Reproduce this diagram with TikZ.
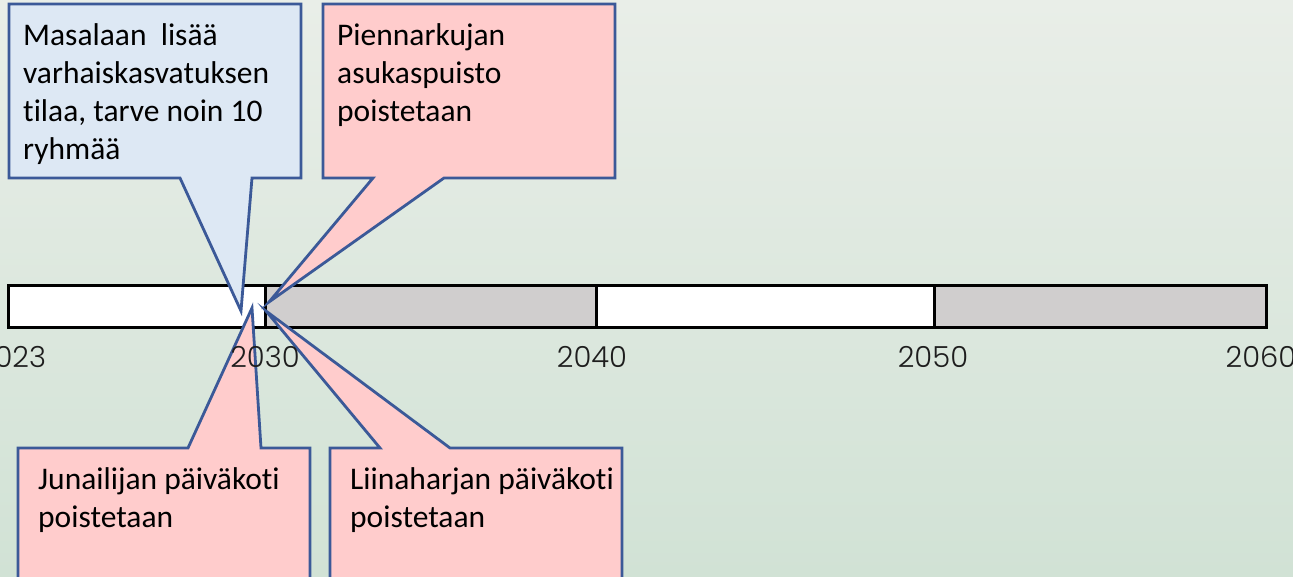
\documentclass[tikz,border=0pt]{standalone}
\usepackage{fontspec}
\setmainfont{Carlito}[Ligatures=NoCommon]
\IfFontExistsTF{Poppins Light}{\newfontfamily\yearfont{Poppins Light}}{\newfontfamily\yearfont{Poppins}}
\definecolor{bgtop}{RGB}{233,238,232}
\definecolor{bgbot}{RGB}{209,226,213}
\definecolor{pinkfill}{RGB}{255,204,204}
\definecolor{bluefill}{RGB}{221,232,244}
\definecolor{calloutline}{RGB}{59,89,152}
\definecolor{bargray}{RGB}{208,206,206}
\definecolor{yeartext}{RGB}{30,30,30}
\begin{document}
\begin{tikzpicture}[x=1pt,y=-1pt,
  callout/.style={draw=calloutline,line width=2.8pt,line join=miter},
  barseg/.style={draw=black,line width=3pt},
  calltext/.style={anchor=base west,inner sep=0pt,align=left,
    font=\fontsize{31.5}{38}\selectfont,text=black},
  year/.style={anchor=base,inner sep=0pt,
    font=\yearfont\fontsize{29}{36}\selectfont,text=yeartext}]
\useasboundingbox (0,0) rectangle (1293,577);
\clip (0,0) rectangle (1293,577);
\shade[top color=bgtop,bottom color=bgbot] (0,0) rectangle (1293,577);

% timeline bar
\draw[barseg,fill=white]   (8,286)   rectangle (265,327);
\draw[barseg,fill=bargray] (265,286) rectangle (596,327);
\draw[barseg,fill=white]   (596,286) rectangle (934,327);
\draw[barseg,fill=bargray] (934,286) rectangle (1266,327);

% pointer tips
\coordinate (tipA) at (241,311);
\coordinate (tipB) at (269,302);
\coordinate (tipC) at (252,308);
\coordinate (tipD) at (266,311);

% callouts
\draw[callout,fill=bluefill] (9,4) -- (301,4) -- (301,178) -- (252,178) -- (tipA)
  -- (180,178) -- (9,178) -- cycle;
\draw[callout,fill=pinkfill] (323,4) -- (615,4) -- (615,178) -- (444,178) -- (tipB)
  -- (373,178) -- (323,178) -- cycle;
\draw[callout,fill=pinkfill] (18,448) -- (188,448) -- (tipC) -- (261,448)
  -- (310,448) -- (310,600) -- (18,600) -- cycle;
\draw[callout,fill=pinkfill] (330,448) -- (380,448) -- (tipD) -- (450,448)
  -- (622,448) -- (622,600) -- (330,600) -- cycle;

% texts (anchored at the baseline of the last line)
\node[calltext] (tA) at (23,160) {Masalaan\ \ lisää\\varhaiskasvatuksen\\tilaa, tarve noin 10\\ryhmää};
\node[calltext] (tB) at (337,122) {Piennarkujan\\asukaspuisto\\poistetaan};
\node[calltext] (tC) at (38,527) {Junailijan päiväkoti\\poistetaan};
\node[calltext] (tD) at (350,527) {Liinaharjan päiväkoti\\poistetaan};

% years
\node[year] (y2023) at (12,367) {2023};
\node[year] (y2030) at (265,367) {2030};
\node[year] (y2040) at (592,367) {2040};
\node[year] (y2050) at (933,367) {2050};
\node[year] (y2060) at (1261,367) {2060};
\end{tikzpicture}
\end{document}
